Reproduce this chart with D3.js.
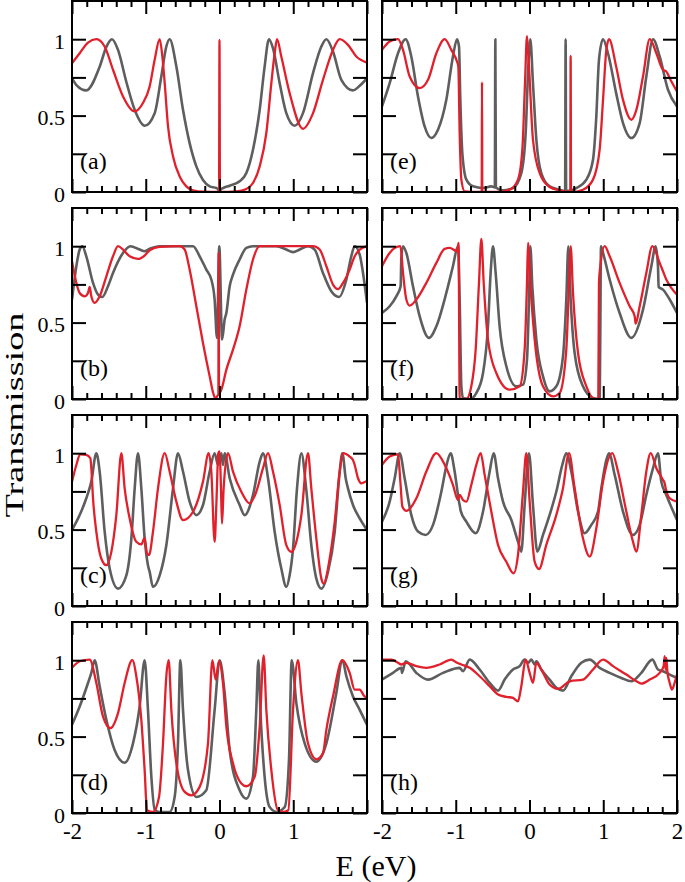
<!DOCTYPE html>
<html><head><meta charset="utf-8">
<script src="https://cdn.jsdelivr.net/npm/d3@7"></script>
<style>
body{margin:0;background:#fff;}
svg{display:block;}
text{font-family:"Liberation Serif","Times New Roman",serif;fill:#000;}
</style>
</head><body>
<svg id="chart" width="685" height="882"></svg>
<script>
// ---- tick labels / axis values ----
const xMajorTicks = [-2, -1, 0, 1, 2];
const xTickLabelsLeft = ["-2", "-1", "0", "1", ""];
const xTickLabelsRight = ["-2", "-1", "0", "1", "2"];
const xMinorTicks = [-1.8,-1.6,-1.4,-1.2,-0.8,-0.6,-0.4,-0.2,0.2,0.4,0.6,0.8,1.2,1.4,1.6,1.8];
const yTicks = [0, 0.25, 0.5, 0.75, 1];
const yTickLabels = {0: "0", 0.5: "0.5", 1: "1"};
const panelLabels = ["(a)","(b)","(c)","(d)","(e)","(f)","(g)","(h)"];
const xLabel = "E (eV)";
const yLabel = "Transmission";

// ---- series: [E (eV), T] ----
const aGray = [[-2.0,0.745],[-1.94,0.70],[-1.806,0.665],[-1.625,0.82],[-1.534,0.95],[-1.458,1.0],[-1.376,0.93],[-1.263,0.72],[-1.15,0.538],[-1.015,0.434],[-0.879,0.516],[-0.789,0.756],[-0.721,0.952],[-0.676,1.0],[-0.585,0.821],[-0.495,0.538],[-0.405,0.32],[-0.314,0.168],[-0.224,0.078],[-0.133,0.037],[-0.043,0.026],[-0.015,0.015],[0,0.0],[0.015,0.015],[0.047,0.026],[0.138,0.041],[0.273,0.07],[0.364,0.124],[0.454,0.277],[0.545,0.538],[0.612,0.821],[0.671,1.0],[0.725,0.941],[0.816,0.712],[0.906,0.516],[1.019,0.434],[1.132,0.516],[1.268,0.778],[1.381,0.952],[1.449,1.0],[1.539,0.919],[1.652,0.734],[1.81,0.665],[1.901,0.695],[2.0,0.745]];
const aRed = [[-2.0,0.843],[-1.896,0.908],[-1.783,0.978],[-1.67,1.0],[-1.557,0.952],[-1.444,0.80],[-1.308,0.625],[-1.15,0.527],[-1.038,0.582],[-0.947,0.691],[-0.879,0.865],[-0.811,1.0],[-0.775,0.887],[-0.743,0.712],[-0.698,0.429],[-0.63,0.233],[-0.54,0.102],[-0.45,0.037],[-0.359,0.011],[-0.224,0.002],[-0.006,0.0],[0,0.996],[0.006,0.0],[0.228,0.004],[0.364,0.02],[0.454,0.059],[0.545,0.168],[0.635,0.386],[0.703,0.712],[0.748,0.908],[0.78,1.0],[0.838,0.887],[0.951,0.647],[1.132,0.414],[1.268,0.516],[1.403,0.734],[1.539,0.93],[1.63,1.0],[1.742,0.963],[1.855,0.887],[2.0,0.847]];

const bGray = [[-2.0,0.651],[-1.941,0.869],[-1.896,0.978],[-1.86,1.0],[-1.806,0.934],[-1.715,0.76],[-1.647,0.683],[-1.589,0.668],[-1.512,0.738],[-1.444,0.825],[-1.308,0.956],[-1.209,1.0],[-1.083,0.978],[-1.015,0.967],[-0.947,0.983],[-0.811,1.0],[-0.359,1.0],[-0.269,0.934],[-0.179,0.847],[-0.111,0.782],[-0.066,0.651],[-0.034,0.40],[-0.003,1.0],[0.035,0.39],[0.07,0.52],[0.093,0.563],[0.138,0.738],[0.183,0.814],[0.273,0.913],[0.364,0.989],[0.454,1.0],[0.771,1.0],[0.906,0.978],[0.997,0.961],[1.087,0.978],[1.2,1.0],[1.29,0.978],[1.403,0.825],[1.516,0.705],[1.621,0.668],[1.72,0.782],[1.787,0.934],[1.833,1.0],[1.901,0.945],[1.946,0.825],[2.0,0.629]];
const bRed = [[-2.0,0.902],[-1.941,0.76],[-1.896,0.694],[-1.828,0.672],[-1.783,0.694],[-1.76,0.734],[-1.738,0.672],[-1.693,0.629],[-1.625,0.672],[-1.534,0.803],[-1.444,0.934],[-1.376,1.0],[-1.308,0.978],[-1.218,0.934],[-1.105,0.917],[-1.015,0.939],[-0.947,0.974],[-0.811,0.996],[-0.54,1.0],[-0.472,0.978],[-0.405,0.847],[-0.314,0.607],[-0.224,0.367],[-0.133,0.148],[-0.079,0.028],[-0.052,0.0],[-0.034,0.017],[-0.015,0.03],[-0.011,0.956],[-0.007,0.04],[0.002,0.039],[0.025,0.061],[0.093,0.192],[0.183,0.323],[0.273,0.476],[0.364,0.716],[0.454,0.913],[0.545,1.0],[0.997,1.0],[1.268,1.0],[1.358,0.978],[1.449,0.869],[1.539,0.749],[1.607,0.72],[1.675,0.76],[1.765,0.847],[1.833,0.934],[1.901,0.978],[2.0,1.0]];

const cGray = [[-2.0,0.497],[-1.896,0.595],[-1.806,0.705],[-1.738,0.814],[-1.67,1.0],[-1.625,0.88],[-1.557,0.486],[-1.489,0.245],[-1.376,0.114],[-1.263,0.201],[-1.195,0.442],[-1.15,0.77],[-1.105,1.0],[-1.06,0.77],[-1.015,0.442],[-0.97,0.267],[-0.947,0.223],[-0.902,0.125],[-0.811,0.201],[-0.721,0.398],[-0.63,0.77],[-0.563,1.0],[-0.495,0.88],[-0.405,0.683],[-0.314,0.595],[-0.224,0.661],[-0.133,0.88],[-0.066,1.0],[-0.02,0.923],[0.025,1.0],[0.047,0.923],[0.07,1.0],[0.138,0.836],[0.273,0.661],[0.341,0.595],[0.454,0.726],[0.545,0.945],[0.59,1.0],[0.658,0.836],[0.748,0.486],[0.838,0.245],[0.906,0.125],[0.951,0.201],[0.997,0.376],[1.051,0.77],[1.11,1.0],[1.175,0.77],[1.245,0.398],[1.313,0.179],[1.381,0.114],[1.471,0.223],[1.562,0.486],[1.63,0.88],[1.666,1.0],[1.711,0.836],[1.742,0.77],[1.81,0.661],[1.901,0.573],[2.0,0.497]];
const cRed = [[-2.0,0.814],[-1.941,0.923],[-1.887,0.993],[-1.806,0.989],[-1.751,0.967],[-1.738,0.902],[-1.715,0.705],[-1.67,0.486],[-1.603,0.311],[-1.534,0.267],[-1.467,0.354],[-1.399,0.595],[-1.331,1.0],[-1.286,0.77],[-1.218,0.573],[-1.128,0.42],[-1.06,0.403],[-1.015,0.446],[-0.983,0.344],[-0.956,0.333],[-0.902,0.486],[-0.834,0.77],[-0.743,1.0],[-0.676,0.88],[-0.585,0.683],[-0.495,0.562],[-0.359,0.617],[-0.224,0.814],[-0.147,1.0],[-0.111,0.88],[-0.066,0.42],[-0.043,0.661],[-0.016,1.0],[0.002,1.011],[0.02,0.77],[0.034,0.54],[0.056,0.77],[0.115,1.0],[0.183,0.88],[0.296,0.748],[0.409,0.672],[0.499,0.748],[0.59,0.902],[0.658,1.0],[0.725,0.88],[0.816,0.661],[0.906,0.398],[0.974,0.354],[1.042,0.42],[1.11,0.595],[1.2,1.0],[1.245,0.77],[1.313,0.442],[1.381,0.179],[1.412,0.147],[1.494,0.311],[1.562,0.551],[1.63,0.88],[1.675,1.0],[1.765,0.978],[1.81,0.956],[1.833,0.923],[1.878,0.836],[1.923,0.803],[2.0,0.818]];

const dGray = [[-2.0,0.577],[-1.896,0.697],[-1.783,0.851],[-1.738,0.917],[-1.693,1.0],[-1.625,0.829],[-1.534,0.61],[-1.422,0.412],[-1.286,0.329],[-1.173,0.456],[-1.083,0.697],[-1.015,1.0],[-0.97,0.675],[-0.924,0.237],[-0.879,0.022],[-0.811,0.007],[-0.676,0.007],[-0.608,0.105],[-0.563,0.456],[-0.531,1.0],[-0.495,0.675],[-0.427,0.281],[-0.314,0.105],[-0.179,0.149],[-0.066,0.675],[0.002,1.0],[0.07,0.785],[0.138,0.412],[0.273,0.149],[0.364,0.094],[0.454,0.237],[0.499,0.675],[0.527,1.0],[0.554,0.675],[0.612,0.237],[0.68,0.039],[0.771,0.007],[0.884,0.039],[0.942,0.346],[0.979,1.0],[1.042,0.719],[1.155,0.456],[1.313,0.336],[1.449,0.456],[1.584,0.785],[1.666,1.0],[1.72,0.895],[1.81,0.763],[1.901,0.675],[2.0,0.577]];
const dRed = [[-2.0,0.95],[-1.896,0.993],[-1.76,1.004],[-1.67,0.851],[-1.58,0.632],[-1.48,0.555],[-1.376,0.654],[-1.286,0.851],[-1.182,1.0],[-1.128,0.895],[-1.06,0.61],[-1.015,0.281],[-0.983,0.018],[-0.902,0.007],[-0.82,0.105],[-0.766,0.456],[-0.721,0.895],[-0.689,1.0],[-0.653,0.675],[-0.585,0.325],[-0.472,0.138],[-0.382,0.116],[-0.269,0.171],[-0.156,0.456],[-0.097,1.0],[-0.052,0.873],[-0.007,0.993],[0.047,0.851],[0.093,0.566],[0.183,0.325],[0.296,0.193],[0.364,0.175],[0.477,0.237],[0.545,0.566],[0.599,1.031],[0.635,0.675],[0.703,0.281],[0.793,0.018],[0.87,0.007],[0.933,0.018],[0.997,0.675],[1.064,1.0],[1.11,0.785],[1.2,0.456],[1.313,0.351],[1.403,0.39],[1.449,0.544],[1.539,0.763],[1.666,1.0],[1.765,0.917],[1.833,0.807],[1.901,0.807],[1.968,0.763],[2.0,0.759]];

const eGray = [[-2.0,0.56],[-1.896,0.712],[-1.783,0.908],[-1.679,1.0],[-1.603,0.887],[-1.512,0.625],[-1.422,0.429],[-1.331,0.353],[-1.241,0.407],[-1.128,0.603],[-1.038,0.887],[-0.983,1.0],[-0.956,0.952],[-0.938,0.603],[-0.911,0.255],[-0.856,0.081],[-0.766,0.037],[-0.63,0.026],[-0.518,0.037],[-0.47,0.03],[-0.463,1.0],[-0.456,0.03],[-0.359,0.011],[-0.224,0.026],[-0.111,0.124],[-0.052,0.386],[-0.016,0.821],[0.011,1.0],[0.047,0.712],[0.093,0.342],[0.16,0.124],[0.273,0.037],[0.409,0.015],[0.483,0.005],[0.49,1.0],[0.497,0.005],[0.635,0.026],[0.771,0.081],[0.861,0.211],[0.906,0.495],[0.942,0.865],[0.997,1.0],[1.064,0.908],[1.175,0.647],[1.268,0.451],[1.381,0.353],[1.494,0.451],[1.584,0.756],[1.675,1.0],[1.765,0.887],[1.878,0.669],[2.0,0.56]];
const eRed = [[-2.0,0.93],[-1.896,0.985],[-1.783,1.0],[-1.715,0.93],[-1.625,0.756],[-1.489,0.68],[-1.376,0.734],[-1.263,0.908],[-1.15,1.0],[-1.06,0.93],[-0.983,0.854],[-0.965,0.821],[-0.947,0.386],[-0.924,0.081],[-0.879,0.004],[-0.676,0.0],[-0.648,0.0],[-0.644,0.72],[-0.64,0.0],[-0.45,0.0],[-0.269,0.015],[-0.156,0.081],[-0.097,0.277],[-0.061,0.712],[-0.034,1.02],[-0.007,0.821],[0.047,0.342],[0.138,0.124],[0.273,0.033],[0.409,0.011],[0.553,0.0],[0.558,0.89],[0.563,0.0],[0.725,0.015],[0.861,0.081],[0.951,0.277],[0.997,0.603],[1.042,0.93],[1.078,1.0],[1.175,0.821],[1.268,0.603],[1.381,0.473],[1.449,0.538],[1.539,0.756],[1.63,1.0],[1.72,0.908],[1.81,0.80],[1.855,0.789],[1.901,0.745],[2.0,0.658]];

const fGray = [[-2.0,0.563],[-1.896,0.607],[-1.806,0.672],[-1.747,0.738],[-1.738,0.924],[-1.715,1.0],[-1.67,0.956],[-1.58,0.738],[-1.489,0.541],[-1.363,0.40],[-1.263,0.476],[-1.128,0.694],[-1.038,0.869],[-0.97,1.0],[-0.947,0.651],[-0.924,0.083],[-0.902,0.007],[-0.811,0.0],[-0.721,0.039],[-0.63,0.17],[-0.563,0.476],[-0.527,0.825],[-0.495,1.0],[-0.459,0.825],[-0.405,0.476],[-0.314,0.214],[-0.179,0.083],[-0.088,0.094],[-0.034,0.258],[-0.007,0.651],[0.011,1.0],[0.038,0.738],[0.093,0.389],[0.183,0.148],[0.273,0.05],[0.364,0.083],[0.454,0.279],[0.499,0.651],[0.527,1.0],[0.558,0.651],[0.612,0.301],[0.725,0.083],[0.861,0.007],[0.951,0.0],[0.96,0.432],[0.969,1.0],[0.997,0.956],[1.087,0.782],[1.222,0.563],[1.381,0.40],[1.539,0.585],[1.652,0.869],[1.711,1.0],[1.742,0.869],[1.751,0.734],[1.81,0.716],[1.901,0.651],[2.0,0.563]];
const fRed = [[-2.0,0.869],[-1.896,0.956],[-1.751,1.0],[-1.715,0.825],[-1.67,0.651],[-1.625,0.611],[-1.534,0.651],[-1.399,0.76],[-1.263,0.891],[-1.15,0.983],[-1.083,0.989],[-0.983,0.967],[-0.961,1.022],[-0.947,0.0],[-0.856,0.0],[-0.789,0.083],[-0.73,0.323],[-0.685,0.76],[-0.653,1.048],[-0.621,0.76],[-0.563,0.389],[-0.45,0.17],[-0.269,0.061],[-0.133,0.083],[-0.066,0.323],[-0.034,0.76],[-0.02,1.022],[0.011,0.76],[0.07,0.389],[0.183,0.083],[0.319,0.017],[0.409,0.039],[0.499,0.323],[0.536,0.76],[0.558,1.0],[0.59,0.694],[0.658,0.301],[0.771,0.083],[0.884,0.0],[0.933,0.0],[0.942,0.76],[0.96,0.869],[1.019,1.0],[1.087,0.934],[1.222,0.76],[1.358,0.607],[1.426,0.541],[1.44,0.493],[1.494,0.607],[1.584,0.825],[1.666,1.0],[1.765,0.891],[1.81,0.836],[1.855,0.782],[1.923,0.727],[2.0,0.683]];

const gGray = [[-2.0,0.552],[-1.896,0.683],[-1.828,0.836],[-1.76,1.0],[-1.693,0.836],[-1.603,0.596],[-1.512,0.487],[-1.408,0.465],[-1.308,0.531],[-1.195,0.749],[-1.119,0.934],[-1.069,1.0],[-1.015,0.88],[-0.956,0.683],[-0.943,0.651],[-0.933,0.622],[-0.856,0.552],[-0.73,0.476],[-0.63,0.618],[-0.54,0.88],[-0.486,1.0],[-0.427,0.836],[-0.359,0.683],[-0.246,0.563],[-0.156,0.421],[-0.111,0.356],[-0.066,0.662],[-0.007,1.0],[0.047,0.662],[0.106,0.356],[0.183,0.465],[0.273,0.596],[0.364,0.749],[0.445,0.924],[0.499,1.0],[0.567,0.88],[0.658,0.618],[0.748,0.476],[0.838,0.531],[0.929,0.618],[0.974,0.771],[1.042,0.956],[1.078,1.0],[1.155,0.858],[1.268,0.618],[1.403,0.465],[1.494,0.531],[1.584,0.727],[1.675,0.902],[1.742,1.0],[1.787,0.814],[1.855,0.727],[2.0,0.563]];
const gRed = [[-2.0,0.924],[-1.896,0.978],[-1.783,0.993],[-1.751,0.814],[-1.724,0.651],[-1.67,0.622],[-1.534,0.705],[-1.399,0.88],[-1.263,1.0],[-1.15,0.924],[-1.038,0.793],[-0.97,0.694],[-0.947,0.727],[-0.902,0.694],[-0.856,0.683],[-0.789,0.793],[-0.721,0.924],[-0.662,1.0],[-0.608,0.858],[-0.518,0.618],[-0.427,0.40],[-0.314,0.29],[-0.215,0.214],[-0.156,0.334],[-0.088,0.749],[-0.043,1.0],[0.002,0.683],[0.07,0.29],[0.129,0.242],[0.228,0.40],[0.364,0.596],[0.454,0.771],[0.536,1.0],[0.612,0.771],[0.725,0.443],[0.816,0.323],[0.906,0.509],[0.997,0.814],[1.123,1.0],[1.2,0.88],[1.313,0.618],[1.403,0.421],[1.449,0.356],[1.516,0.596],[1.584,0.88],[1.643,1.0],[1.72,0.902],[1.81,0.825],[1.833,0.803],[1.846,0.771],[1.901,0.705],[2.0,0.683]];

const hGray = [[-2.0,0.873],[-1.851,0.917],[-1.738,0.95],[-1.729,0.917],[-1.679,0.993],[-1.534,0.917],[-1.376,0.873],[-1.173,0.917],[-0.947,0.95],[-0.902,0.928],[-0.811,1.004],[-0.676,0.939],[-0.54,0.852],[-0.427,0.801],[-0.337,0.873],[-0.224,0.939],[-0.133,0.961],[-0.066,1.004],[-0.02,0.983],[0.025,1.004],[0.07,0.972],[0.093,0.993],[0.16,0.939],[0.273,0.873],[0.364,0.819],[0.454,0.801],[0.567,0.895],[0.703,0.983],[0.816,1.004],[0.951,0.95],[1.087,0.917],[1.245,0.884],[1.381,0.862],[1.516,0.917],[1.666,1.004],[1.742,0.939],[1.81,0.928],[1.901,0.906],[2.0,0.884]];
const hRed = [[-2.0,1.004],[-1.873,1.004],[-1.783,0.983],[-1.738,0.972],[-1.67,0.983],[-1.534,0.961],[-1.399,0.95],[-1.218,0.972],[-1.06,1.004],[-0.983,0.983],[-0.924,0.972],[-0.811,0.95],[-0.676,0.895],[-0.54,0.83],[-0.427,0.775],[-0.314,0.76],[-0.224,0.753],[-0.156,0.731],[-0.111,0.83],[-0.052,1.004],[0.002,0.917],[0.047,0.852],[0.093,0.983],[0.16,0.939],[0.273,0.841],[0.386,0.812],[0.545,0.862],[0.725,0.873],[0.861,0.939],[0.997,1.004],[1.132,0.961],[1.313,0.906],[1.449,0.862],[1.516,0.847],[1.63,0.873],[1.765,0.917],[1.819,0.961],[1.833,1.026],[1.846,0.939],[1.855,1.015],[1.869,0.928],[1.901,0.852],[1.932,0.808],[1.968,0.852],[2.0,0.906]];

// ---- layout ----
const colX = [72, 382];
const rowY = [1, 208, 415, 622];
const PW = 295, PH = 191;
const GRAY = "#5e5e5e", RED = "#e2202c";

const panels = [
  {label: panelLabels[0], gray: aGray, red: aRed, col: 0, row: 0},
  {label: panelLabels[1], gray: bGray, red: bRed, col: 0, row: 1},
  {label: panelLabels[2], gray: cGray, red: cRed, col: 0, row: 2},
  {label: panelLabels[3], gray: dGray, red: dRed, col: 0, row: 3},
  {label: panelLabels[4], gray: eGray, red: eRed, col: 1, row: 0},
  {label: panelLabels[5], gray: fGray, red: fRed, col: 1, row: 1},
  {label: panelLabels[6], gray: gGray, red: gRed, col: 1, row: 2},
  {label: panelLabels[7], gray: hGray, red: hRed, col: 1, row: 3}
];

const svg = d3.select("#chart");
const x = d3.scaleLinear().domain([-2, 2]).range([0, PW]);
const y = d3.scaleLinear().domain([0, 1.25]).range([PH, 0]);
const line = d3.line().x(d => x(d[0])).y(d => y(d[1])).curve(d3.curveMonotoneX);

panels.forEach((p, i) => {
  const g = svg.append("g").attr("transform", `translate(${colX[p.col]},${rowY[p.row]})`);
  const cid = "clip" + i;
  g.append("clipPath").attr("id", cid).append("rect").attr("width", PW).attr("height", PH);

  const plot = g.append("g").attr("clip-path", `url(#${cid})`);
  plot.append("path").datum(p.gray).attr("d", line)
    .attr("fill", "none").attr("stroke", GRAY).attr("stroke-width", 2.6).attr("stroke-linejoin", "round");
  plot.append("path").datum(p.red).attr("d", line)
    .attr("fill", "none").attr("stroke", RED).attr("stroke-width", 2.3).attr("stroke-linejoin", "round");

  const showX = p.row === 3;
  const showY = p.col === 0;
  const xLabels = p.col === 0 ? xTickLabelsLeft : xTickLabelsRight;

  // minor x ticks bottom & top
  [[d3.axisBottom, PH], [d3.axisTop, 0]].forEach(([ax, ty]) => {
    g.append("g").attr("transform", `translate(0,${ty})`)
      .call(ax(x).tickValues(xMinorTicks).tickSize(-6).tickFormat(""))
      .call(a => a.select(".domain").remove());
  });
  // major x ticks
  const xb = g.append("g").attr("transform", `translate(0,${PH})`)
    .call(d3.axisBottom(x).tickValues(xMajorTicks).tickSize(-13).tickPadding(10)
      .tickFormat((d, j) => showX ? xLabels[j] : ""));
  xb.select(".domain").remove();
  xb.selectAll("text").style("font-size", "23px");
  g.append("g").call(d3.axisTop(x).tickValues(xMajorTicks).tickSize(-13).tickFormat(""))
    .call(a => a.select(".domain").remove());

  // y ticks
  const yl = g.append("g")
    .call(d3.axisLeft(y).tickValues(yTicks).tickSize(-14).tickPadding(7)
      .tickFormat(d => showY && yTickLabels[d] !== undefined ? yTickLabels[d] : ""));
  yl.select(".domain").remove();
  yl.selectAll("text").style("font-size", "22px").attr("dy", "0.42em");
  g.append("g").attr("transform", `translate(${PW},0)`)
    .call(d3.axisRight(y).tickValues(yTicks).tickSize(-14).tickFormat(""))
    .call(a => a.select(".domain").remove());

  g.selectAll(".tick line").attr("stroke", "#000").attr("stroke-width", 2);
  g.selectAll(".tick text").attr("fill", "#000");

  g.append("rect").attr("width", PW).attr("height", PH)
    .attr("fill", "none").attr("stroke", "#000").attr("stroke-width", 2);

  g.append("text").attr("x", 8).attr("y", PH - 23).style("font-size", "24px").text(p.label);
});

svg.append("text").attr("x", 376).attr("y", 876).attr("text-anchor", "middle")
  .style("font-size", "30px").text(xLabel);
svg.append("text").attr("transform", "translate(23,415) rotate(-90)")
  .attr("text-anchor", "middle").style("font-size", "25px")
  .attr("textLength", 205).attr("lengthAdjust", "spacingAndGlyphs").text(yLabel);
</script>
</body></html>
